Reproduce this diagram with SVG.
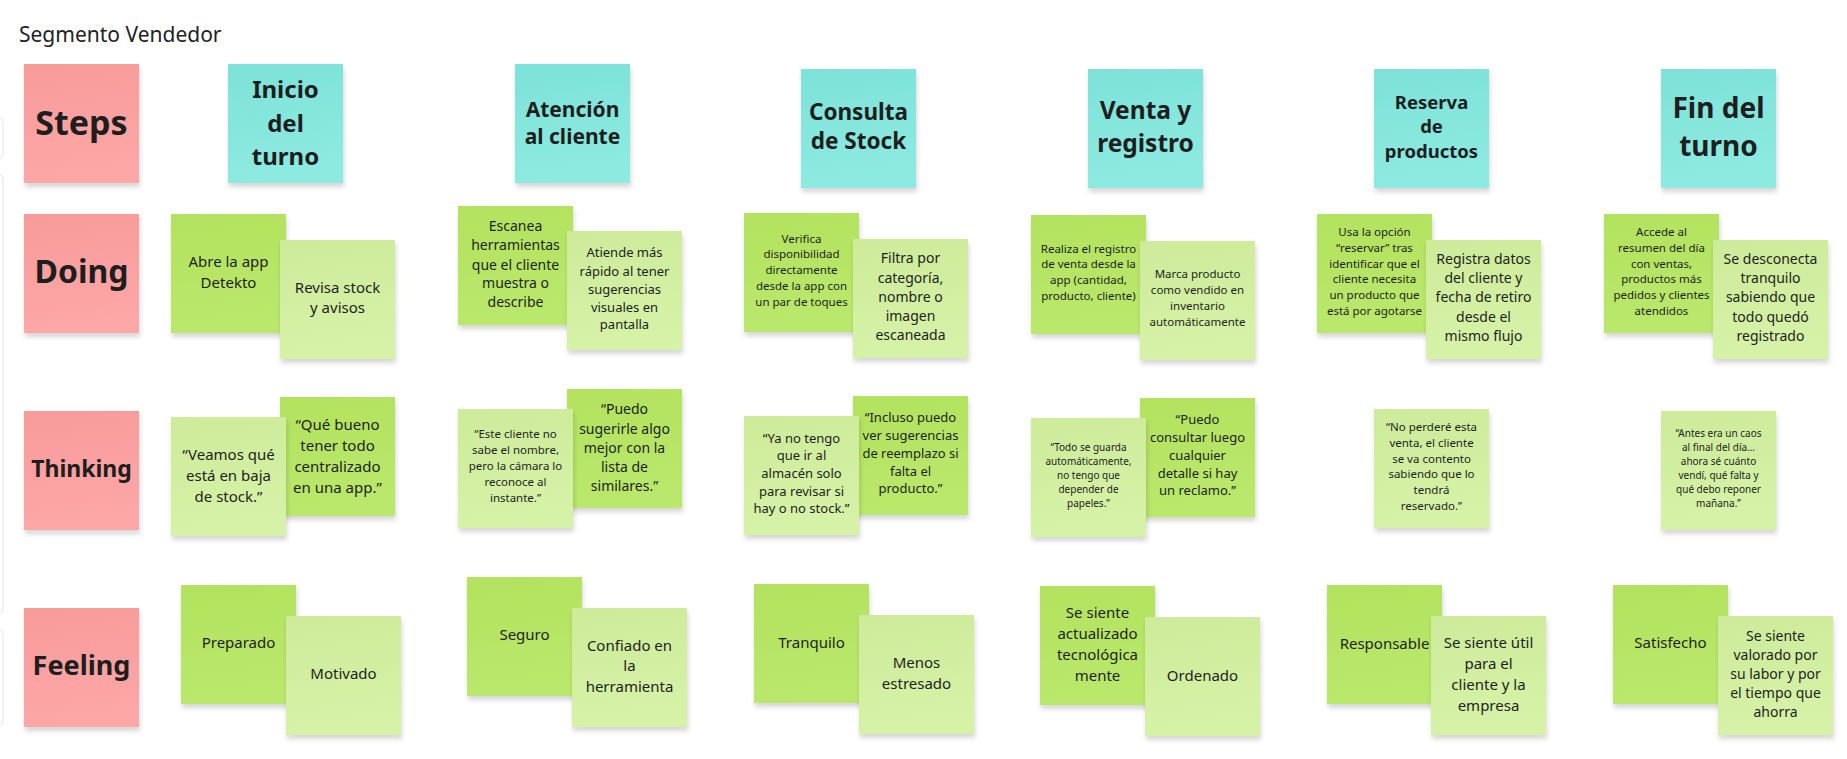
<svg xmlns="http://www.w3.org/2000/svg" width="1847" height="759" viewBox="0 0 1847 759">
<style>
text{font-family:"Noto Sans","Open Sans","DejaVu Sans",sans-serif;fill:#1e1e1e;text-anchor:middle}
.title{text-anchor:start;font-size:21px;fill:#222}
.b{font-weight:700}
.pink{fill:url(#gPink)}
.teal{fill:url(#gTeal)}
.dark{fill:url(#gDark)}
.light{fill:url(#gLight)}
.note{filter:url(#sh)}
.frame{fill:#fff;stroke:#e4e4ec;stroke-width:1}
</style>
<defs>
<linearGradient id="gPink" x1="0" y1="0" x2="0.15" y2="1"><stop offset="0" stop-color="#f89a9a"/><stop offset="1" stop-color="#fda7a7"/></linearGradient>
<linearGradient id="gTeal" x1="0" y1="0" x2="0.15" y2="1"><stop offset="0" stop-color="#7de2d8"/><stop offset="1" stop-color="#8deae1"/></linearGradient>
<linearGradient id="gDark" x1="0" y1="0" x2="0.15" y2="1"><stop offset="0" stop-color="#b2e25e"/><stop offset="1" stop-color="#bae86c"/></linearGradient>
<linearGradient id="gLight" x1="0" y1="0" x2="0.15" y2="1"><stop offset="0" stop-color="#cdeb9a"/><stop offset="1" stop-color="#d6f2a7"/></linearGradient>
<filter id="sh" x="-10%" y="-10%" width="125%" height="130%"><feDropShadow dx="1" dy="4" stdDeviation="2.5" flood-color="#000" flood-opacity="0.16"/></filter>
</defs>
<rect width="1847" height="759" fill="#fff"/>
<g id="frames">
<rect class="frame" x="-12" y="117" width="15" height="42" rx="5"/>
<rect class="frame" x="-12" y="174" width="15" height="440" rx="5"/>
<rect class="frame" x="-12" y="629" width="15" height="97" rx="5"/>
</g>
<text class="title" x="19" y="42">Segmento Vendedor</text>
<g id="connectors"/>

<g id="lbl-steps"><rect class="note pink" x="24" y="64" width="115" height="119"/><text class="b" font-size="34" x="81.5" y="135">Steps</text></g>
<g id="lbl-doing"><rect class="note pink" x="24" y="214" width="115" height="119"/><text class="b" font-size="32" x="81.5" y="283">Doing</text></g>
<g id="lbl-thinking"><rect class="note pink" x="24" y="411" width="115" height="119"/><text class="b" font-size="23" x="81.5" y="477">Thinking</text></g>
<g id="lbl-feeling"><rect class="note pink" x="24" y="608" width="115" height="119"/><text class="b" font-size="27" x="81.5" y="675">Feeling</text></g>

<g id="step-inicio"><rect class="note teal" x="228" y="64" width="115" height="119"/><text class="b" font-size="24"><tspan x="285.5" y="98">Inicio</tspan><tspan x="285.5" y="132">del</tspan><tspan x="285.5" y="165">turno</tspan></text></g>
<g id="step-atencion"><rect class="note teal" x="515" y="64" width="115" height="119"/><text class="b" font-size="21"><tspan x="572.5" y="117">Atención</tspan><tspan x="572.5" y="144">al cliente</tspan></text></g>
<g id="step-consulta"><rect class="note teal" x="801" y="69" width="115" height="119"/><text class="b" font-size="22.5"><tspan x="858.5" y="120">Consulta</tspan><tspan x="858.5" y="149">de Stock</tspan></text></g>
<g id="step-venta"><rect class="note teal" x="1088" y="69" width="115" height="119"/><text class="b" font-size="24.5"><tspan x="1145.5" y="119">Venta y</tspan><tspan x="1145.5" y="152">registro</tspan></text></g>
<g id="step-reserva"><rect class="note teal" x="1374" y="69" width="115" height="119"/><text class="b" font-size="18.5"><tspan x="1431.5" y="109">Reserva</tspan><tspan x="1431.5" y="133">de</tspan><tspan x="1431.5" y="158">productos</tspan></text></g>
<g id="step-fin"><rect class="note teal" x="1661" y="69" width="115" height="119"/><text class="b" font-size="28"><tspan x="1718.5" y="118">Fin del</tspan><tspan x="1718.5" y="156">turno</tspan></text></g>

<g id="doing-1a"><rect class="note dark" x="171" y="214" width="115" height="119"/><text font-size="15"><tspan x="228.5" y="267">Abre la app</tspan><tspan x="228.5" y="288">Detekto</tspan></text></g>
<g id="doing-1b"><rect class="note light" x="280" y="240" width="115" height="119"/><text font-size="15"><tspan x="337.5" y="293">Revisa stock</tspan><tspan x="337.5" y="313">y avisos</tspan></text></g>
<g id="doing-2a"><rect class="note dark" x="458" y="206" width="115" height="119"/><text font-size="14"><tspan x="515.5" y="231">Escanea</tspan><tspan x="515.5" y="250">herramientas</tspan><tspan x="515.5" y="270">que el cliente</tspan><tspan x="515.5" y="288">muestra o</tspan><tspan x="515.5" y="307">describe</tspan></text></g>
<g id="doing-2b"><rect class="note light" x="567" y="231" width="115" height="119"/><text font-size="13"><tspan x="624.5" y="257">Atiende más</tspan><tspan x="624.5" y="276">rápido al tener</tspan><tspan x="624.5" y="294">sugerencias</tspan><tspan x="624.5" y="312">visuales en</tspan><tspan x="624.5" y="329">pantalla</tspan></text></g>
<g id="doing-3a"><rect class="note dark" x="744" y="213" width="115" height="119"/><text font-size="11.5"><tspan x="801.5" y="243">Verifica</tspan><tspan x="801.5" y="258">disponibilidad</tspan><tspan x="801.5" y="274">directamente</tspan><tspan x="801.5" y="290">desde la app con</tspan><tspan x="801.5" y="306">un par de toques</tspan></text></g>
<g id="doing-3b"><rect class="note light" x="853" y="239" width="115" height="119"/><text font-size="14"><tspan x="910.5" y="263">Filtra por</tspan><tspan x="910.5" y="283">categoría,</tspan><tspan x="910.5" y="302">nombre o</tspan><tspan x="910.5" y="321">imagen</tspan><tspan x="910.5" y="340">escaneada</tspan></text></g>
<g id="doing-4a"><rect class="note dark" x="1031" y="215" width="115" height="119"/><text font-size="11.5"><tspan x="1088.5" y="253">Realiza el registro</tspan><tspan x="1088.5" y="268">de venta desde la</tspan><tspan x="1088.5" y="284">app (cantidad,</tspan><tspan x="1088.5" y="300">producto, cliente)</tspan></text></g>
<g id="doing-4b"><rect class="note light" x="1140" y="241" width="115" height="119"/><text font-size="11.5"><tspan x="1197.5" y="278">Marca producto</tspan><tspan x="1197.5" y="294">como vendido en</tspan><tspan x="1197.5" y="310">inventario</tspan><tspan x="1197.5" y="326">automáticamente</tspan></text></g>
<g id="doing-5a"><rect class="note dark" x="1317" y="214" width="115" height="119"/><text font-size="11.5"><tspan x="1374.5" y="236">Usa la opción</tspan><tspan x="1374.5" y="252">“reservar” tras</tspan><tspan x="1374.5" y="268">identificar que el</tspan><tspan x="1374.5" y="283">cliente necesita</tspan><tspan x="1374.5" y="299">un producto que</tspan><tspan x="1374.5" y="315">está por agotarse</tspan></text></g>
<g id="doing-5b"><rect class="note light" x="1426" y="240" width="115" height="119"/><text font-size="14"><tspan x="1483.5" y="264">Registra datos</tspan><tspan x="1483.5" y="283">del cliente y</tspan><tspan x="1483.5" y="302">fecha de retiro</tspan><tspan x="1483.5" y="322">desde el</tspan><tspan x="1483.5" y="341">mismo flujo</tspan></text></g>
<g id="doing-6a"><rect class="note dark" x="1604" y="214" width="115" height="119"/><text font-size="11.5"><tspan x="1661.5" y="236">Accede al</tspan><tspan x="1661.5" y="252">resumen del día</tspan><tspan x="1661.5" y="268">con ventas,</tspan><tspan x="1661.5" y="283">productos más</tspan><tspan x="1661.5" y="299">pedidos y clientes</tspan><tspan x="1661.5" y="315">atendidos</tspan></text></g>
<g id="doing-6b"><rect class="note light" x="1713" y="240" width="115" height="119"/><text font-size="14"><tspan x="1770.5" y="264">Se desconecta</tspan><tspan x="1770.5" y="283">tranquilo</tspan><tspan x="1770.5" y="302">sabiendo que</tspan><tspan x="1770.5" y="322">todo quedó</tspan><tspan x="1770.5" y="341">registrado</tspan></text></g>

<g id="think-1b"><rect class="note dark" x="280" y="397" width="115" height="119"/><text font-size="15"><tspan x="337.5" y="430">“Qué bueno</tspan><tspan x="337.5" y="451">tener todo</tspan><tspan x="337.5" y="472">centralizado</tspan><tspan x="337.5" y="493">en una app.”</tspan></text></g>
<g id="think-1a"><rect class="note light" x="171" y="417" width="115" height="119"/><text font-size="15"><tspan x="228.5" y="460">“Veamos qué</tspan><tspan x="228.5" y="481">está en baja</tspan><tspan x="228.5" y="502">de stock.”</tspan></text></g>
<g id="think-2b"><rect class="note dark" x="567" y="389" width="115" height="119"/><text font-size="14"><tspan x="624.5" y="414">“Puedo</tspan><tspan x="624.5" y="434">sugerirle algo</tspan><tspan x="624.5" y="453">mejor con la</tspan><tspan x="624.5" y="472">lista de</tspan><tspan x="624.5" y="491">similares.”</tspan></text></g>
<g id="think-2a"><rect class="note light" x="458" y="409" width="115" height="119"/><text font-size="11.5"><tspan x="515.5" y="438">“Este cliente no</tspan><tspan x="515.5" y="454">sabe el nombre,</tspan><tspan x="515.5" y="470">pero la cámara lo</tspan><tspan x="515.5" y="486">reconoce al</tspan><tspan x="515.5" y="502">instante.”</tspan></text></g>
<g id="think-3b"><rect class="note dark" x="853" y="396" width="115" height="119"/><text font-size="13"><tspan x="910.5" y="422">“Incluso puedo</tspan><tspan x="910.5" y="440">ver sugerencias</tspan><tspan x="910.5" y="458">de reemplazo si</tspan><tspan x="910.5" y="476">falta el</tspan><tspan x="910.5" y="493">producto.”</tspan></text></g>
<g id="think-3a"><rect class="note light" x="744" y="416" width="115" height="119"/><text font-size="13"><tspan x="801.5" y="443">“Ya no tengo</tspan><tspan x="801.5" y="460">que ir al</tspan><tspan x="801.5" y="478">almacén solo</tspan><tspan x="801.5" y="496">para revisar si</tspan><tspan x="801.5" y="513">hay o no stock.”</tspan></text></g>
<g id="think-4b"><rect class="note dark" x="1140" y="398" width="115" height="119"/><text font-size="13"><tspan x="1197.5" y="424">“Puedo</tspan><tspan x="1197.5" y="442">consultar luego</tspan><tspan x="1197.5" y="460">cualquier</tspan><tspan x="1197.5" y="478">detalle si hay</tspan><tspan x="1197.5" y="495">un reclamo.”</tspan></text></g>
<g id="think-4a"><rect class="note light" x="1031" y="418" width="115" height="119"/><text font-size="10"><tspan x="1088.5" y="451">“Todo se guarda</tspan><tspan x="1088.5" y="465">automáticamente,</tspan><tspan x="1088.5" y="479">no tengo que</tspan><tspan x="1088.5" y="493">depender de</tspan><tspan x="1088.5" y="507">papeles.”</tspan></text></g>
<g id="think-5"><rect class="note light" x="1374" y="409" width="115" height="119"/><text font-size="11.5"><tspan x="1431.5" y="431">“No perderé esta</tspan><tspan x="1431.5" y="447">venta, el cliente</tspan><tspan x="1431.5" y="463">se va contento</tspan><tspan x="1431.5" y="478">sabiendo que lo</tspan><tspan x="1431.5" y="494">tendrá</tspan><tspan x="1431.5" y="510">reservado.”</tspan></text></g>
<g id="think-6"><rect class="note light" x="1661" y="411" width="115" height="119"/><text font-size="10"><tspan x="1718.5" y="437">“Antes era un caos</tspan><tspan x="1718.5" y="451">al final del día…</tspan><tspan x="1718.5" y="465">ahora sé cuánto</tspan><tspan x="1718.5" y="479">vendí, qué falta y</tspan><tspan x="1718.5" y="493">qué debo reponer</tspan><tspan x="1718.5" y="507">mañana.”</tspan></text></g>

<g id="feel-1a"><rect class="note dark" x="181" y="585" width="115" height="119"/><text font-size="15" x="238.5" y="648">Preparado</text></g>
<g id="feel-1b"><rect class="note light" x="286" y="616" width="115" height="119"/><text font-size="15" x="343.5" y="679">Motivado</text></g>
<g id="feel-2a"><rect class="note dark" x="467" y="577" width="115" height="119"/><text font-size="15" x="524.5" y="640">Seguro</text></g>
<g id="feel-2b"><rect class="note light" x="572" y="608" width="115" height="119"/><text font-size="15"><tspan x="629.5" y="651">Confiado en</tspan><tspan x="629.5" y="671">la</tspan><tspan x="629.5" y="692">herramienta</tspan></text></g>
<g id="feel-3a"><rect class="note dark" x="754" y="584" width="115" height="119"/><text font-size="15" x="811.5" y="648">Tranquilo</text></g>
<g id="feel-3b"><rect class="note light" x="859" y="615" width="115" height="119"/><text font-size="15"><tspan x="916.5" y="668">Menos</tspan><tspan x="916.5" y="689">estresado</tspan></text></g>
<g id="feel-4a"><rect class="note dark" x="1040" y="586" width="115" height="119"/><text font-size="15"><tspan x="1097.5" y="618">Se siente</tspan><tspan x="1097.5" y="639">actualizado</tspan><tspan x="1097.5" y="660">tecnológica</tspan><tspan x="1097.5" y="681">mente</tspan></text></g>
<g id="feel-4b"><rect class="note light" x="1145" y="617" width="115" height="119"/><text font-size="15" x="1202.5" y="681">Ordenado</text></g>
<g id="feel-5a"><rect class="note dark" x="1327" y="585" width="115" height="119"/><text font-size="15" x="1384.5" y="649">Responsable</text></g>
<g id="feel-5b"><rect class="note light" x="1431" y="616" width="115" height="119"/><text font-size="15"><tspan x="1488.5" y="648">Se siente útil</tspan><tspan x="1488.5" y="669">para el</tspan><tspan x="1488.5" y="690">cliente y la</tspan><tspan x="1488.5" y="711">empresa</tspan></text></g>
<g id="feel-6a"><rect class="note dark" x="1613" y="585" width="115" height="119"/><text font-size="15" x="1670.5" y="648">Satisfecho</text></g>
<g id="feel-6b"><rect class="note light" x="1718" y="616" width="115" height="119"/><text font-size="14"><tspan x="1775.5" y="641">Se siente</tspan><tspan x="1775.5" y="660">valorado por</tspan><tspan x="1775.5" y="679">su labor y por</tspan><tspan x="1775.5" y="698">el tiempo que</tspan><tspan x="1775.5" y="717">ahorra</tspan></text></g>
</svg>
